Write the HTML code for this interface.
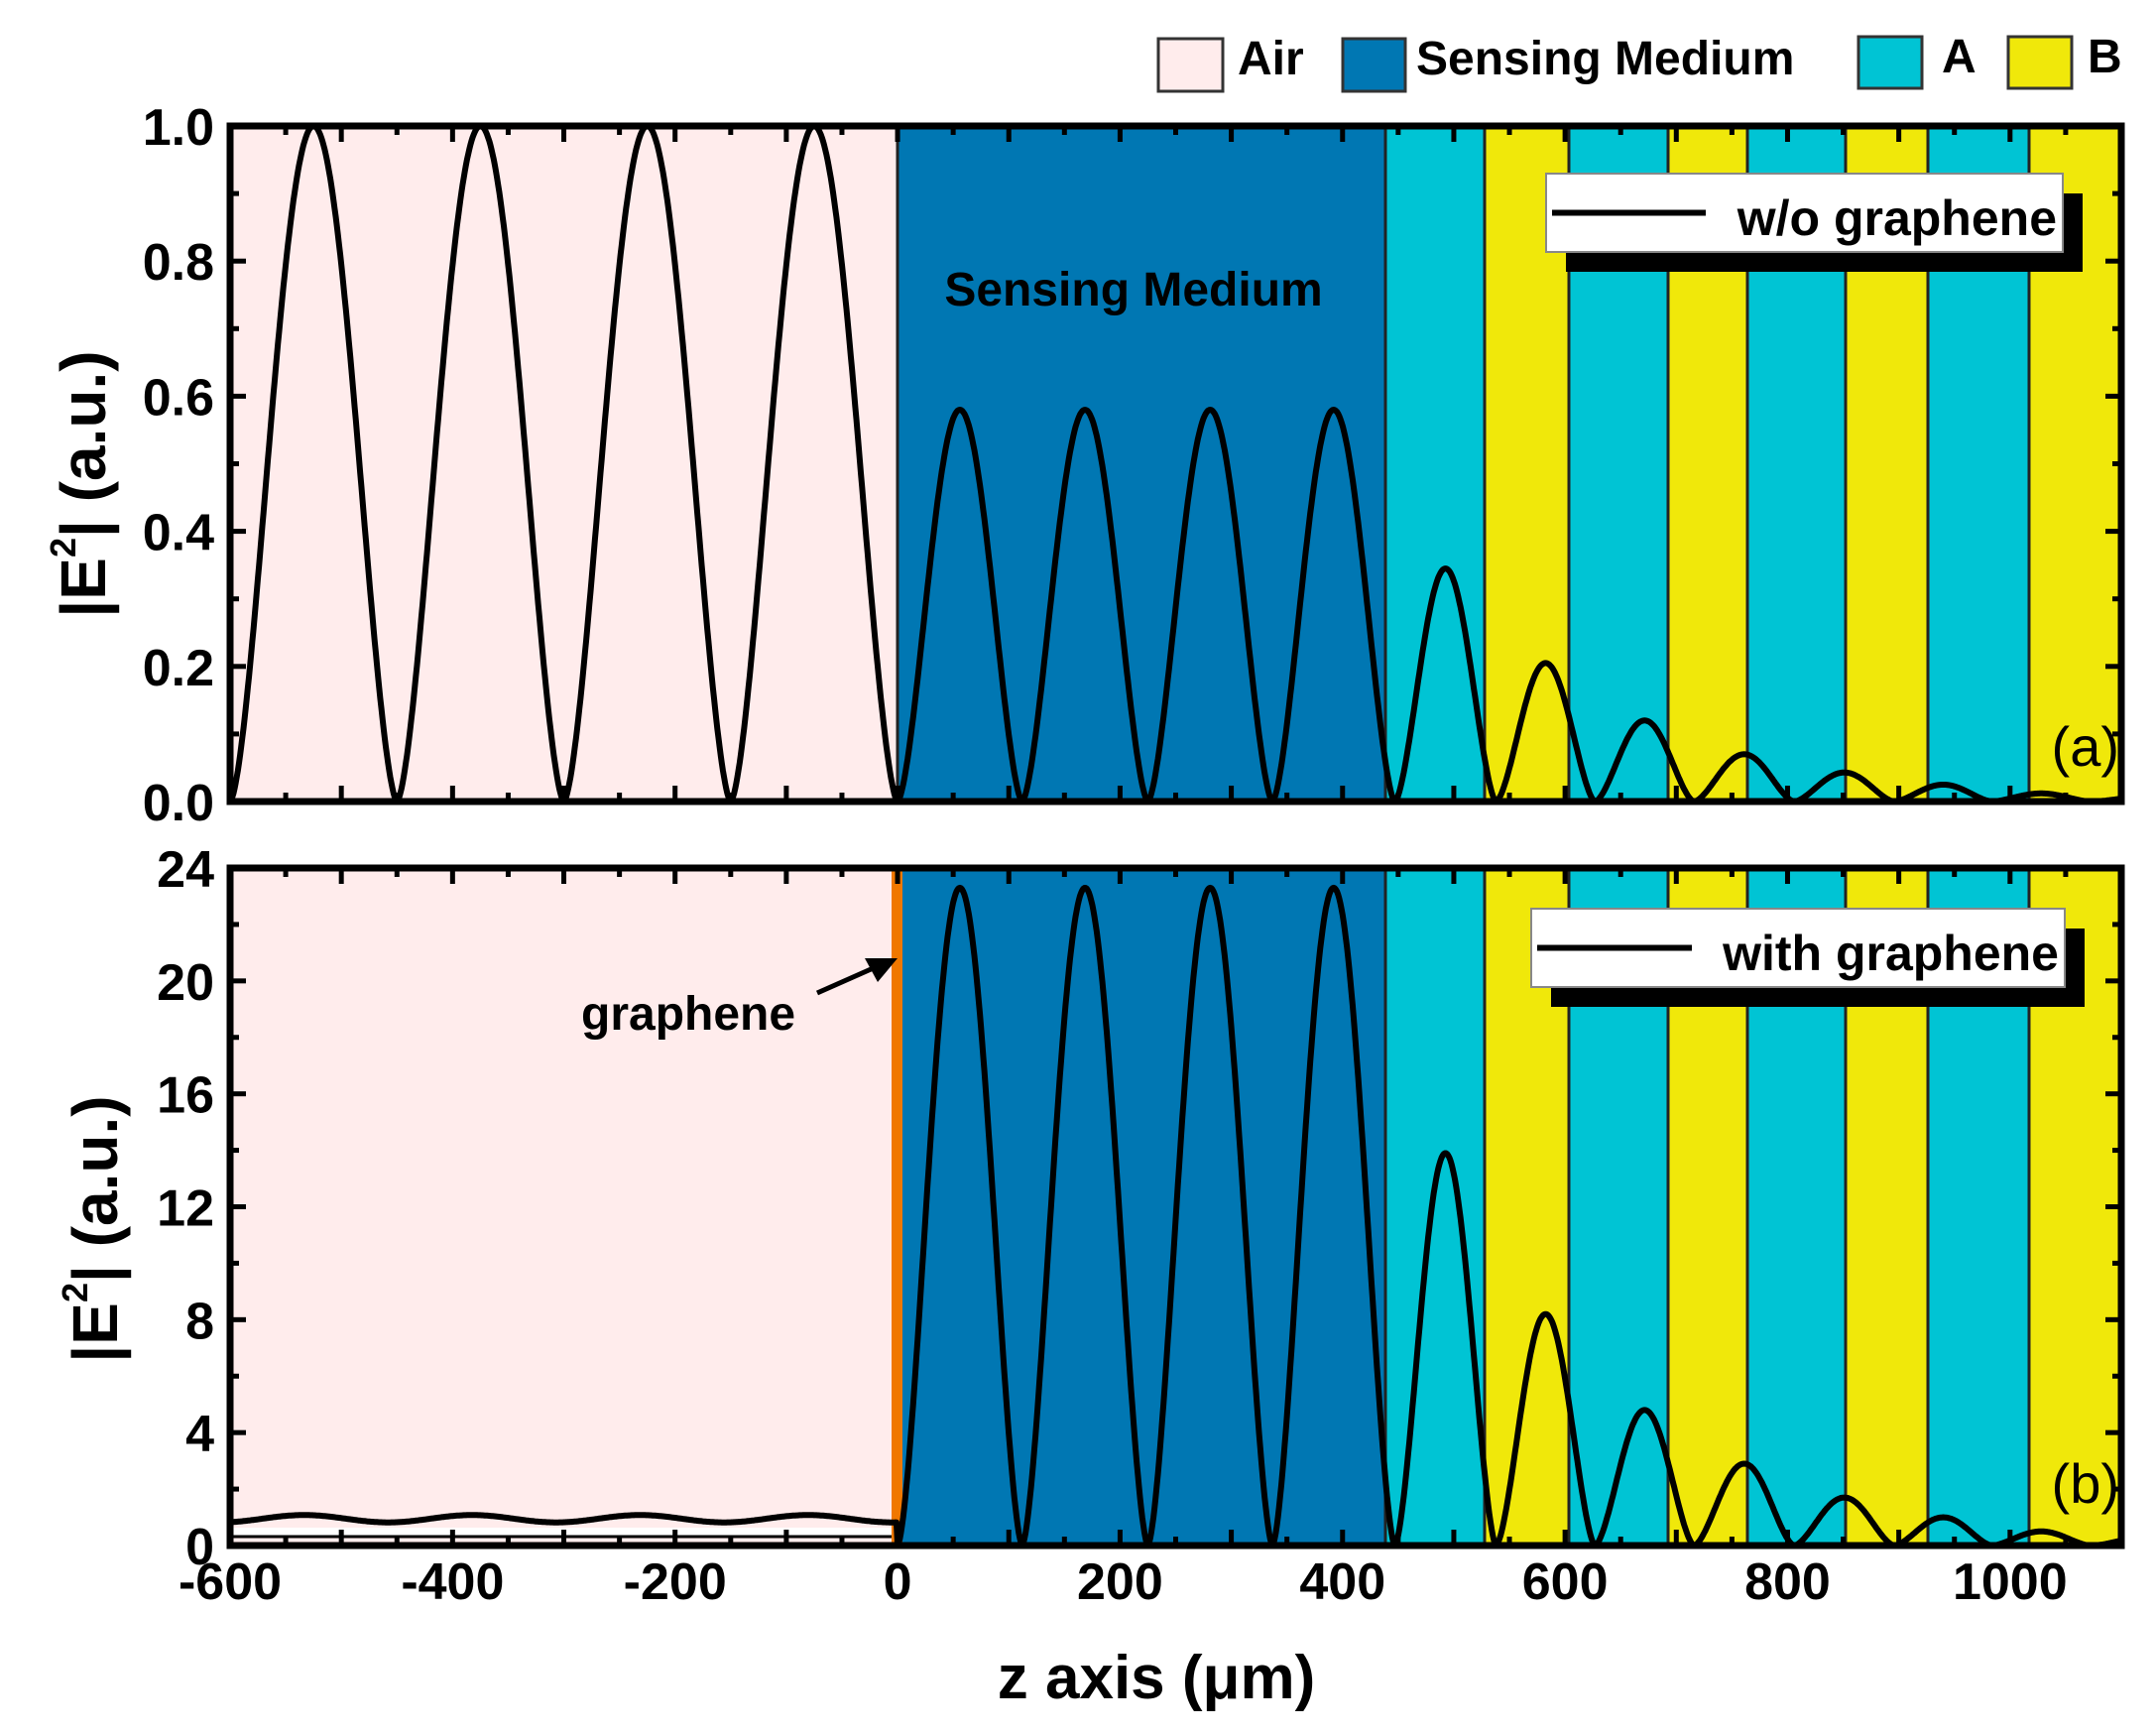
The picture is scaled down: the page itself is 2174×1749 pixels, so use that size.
<!DOCTYPE html>
<html><head><meta charset="utf-8"><style>
html,body{margin:0;padding:0;background:#fff;}
svg{display:block;}
text{font-family:"Liberation Sans",Arial,sans-serif;font-weight:bold;fill:#000;}
</style></head><body>
<svg id="s" width="2174" height="1749" viewBox="0 0 2174 1749" xmlns="http://www.w3.org/2000/svg">
<g id="g"></g>
<!-- legend top -->
<rect x="1168" y="39" width="65" height="53" fill="#ffecec" stroke="#333" stroke-width="3"/>
<text x="1248" y="75" font-size="48">Air</text>
<rect x="1354" y="39" width="63" height="53" fill="#0077b3" stroke="#333" stroke-width="3"/>
<text x="1428" y="75" font-size="48">Sensing Medium</text>
<rect x="1874" y="37" width="64" height="52" fill="#00c4d4" stroke="#333" stroke-width="3"/>
<text x="1958" y="73" font-size="48">A</text>
<rect x="2025" y="37" width="64" height="52" fill="#f0e80a" stroke="#333" stroke-width="3"/>
<text x="2105" y="73" font-size="48">B</text>
<!-- axis titles -->
<text transform="translate(106,488) rotate(-90)" text-anchor="middle" font-size="64">|E<tspan font-size="36" dy="-30">2</tspan><tspan dy="30">| (a.u.)</tspan></text>
<text transform="translate(118,1239) rotate(-90)" text-anchor="middle" font-size="64">|E<tspan font-size="36" dy="-30">2</tspan><tspan dy="30">| (a.u.)</tspan></text>
<text x="1166" y="1712" text-anchor="middle" font-size="62">z axis (μm)</text>
</svg>
<script>
const g=document.getElementById('g');
const NS='http://www.w3.org/2000/svg';
function el(t,a,txt){const e=document.createElementNS(NS,t);for(const k in a)e.setAttribute(k,a[k]);if(txt!==undefined)e.textContent=txt;g.appendChild(e);return e;}
const X0=232,X1=2139;
const sx=z=>X0+(z+600)*(X1-X0)/1700;
const bounds=[[1397,1497,'#00c4d4'],[1497,1582,'#f0e80a'],[1582,1682,'#00c4d4'],[1682,1762,'#f0e80a'],[1762,1861,'#00c4d4'],[1861,1944,'#f0e80a'],[1944,2046,'#00c4d4'],[2046,2139,'#f0e80a']];
const zeros=[0,112,225,337,447,538,627,716,806,896,984,1072];
function curve(z,peaks,air){
  if(z<0) return air(z);
  for(let i=0;i<zeros.length-1;i++){
    if(z>=zeros[i]&&z<=zeros[i+1]){const t=(z-zeros[i])/(zeros[i+1]-zeros[i]);return peaks[i]*Math.pow(Math.sin(Math.PI*t),1.6);}
  }
  return peaks[peaks.length-1]*0.5*Math.pow(Math.sin(Math.PI*(z-1072)/88),2);
}
function panel(top,bot,ymax,yticks,minor,peaks,air,lab,leg,label,isB){
  const sy=v=>bot-(v/ymax)*(bot-top);
  el('rect',{x:X0,y:top,width:905-X0,height:bot-top,fill:'#ffecec'});
  el('rect',{x:905,y:top,width:1397-905,height:bot-top,fill:'#0077b3'});
  bounds.forEach(b=>el('rect',{x:b[0],y:top,width:b[1]-b[0],height:bot-top,fill:b[2]}));
  [905,1397].concat(bounds.map(b=>b[1])).forEach(x=>{if(x<2139)el('line',{x1:x,y1:top,x2:x,y2:bot,stroke:'#222','stroke-width':3});});
  if(isB){
    el('rect',{x:X0,y:bot-18,width:905-X0,height:8,fill:'#fff'});
    el('line',{x1:X0,y1:bot-9,x2:905,y2:bot-9,stroke:'#000','stroke-width':3});
    el('rect',{x:899,y:top,width:11,height:bot-top,fill:'#f07800'});
  }
  let d='';
  for(let z=-600;z<=1100;z+=1){const v=curve(z,peaks,air);d+=(z==-600?'M':'L')+sx(z).toFixed(1)+','+sy(v).toFixed(1);}
  el('path',{d:d,fill:'none',stroke:'#000','stroke-width':6,'stroke-linejoin':'round'});
  for(let z=-600;z<=1100;z+=50){const x=sx(z);const L=(z%100==0)?16:9;
    el('line',{x1:x,y1:bot,x2:x,y2:bot-L,stroke:'#000','stroke-width':5});
    el('line',{x1:x,y1:top,x2:x,y2:top+L,stroke:'#000','stroke-width':5});
    if(isB && z%200==0) el('text',{x:x,y:bot+54,'text-anchor':'middle','font-size':52},String(z));
  }
  for(let v=0;v<=ymax+1e-9;v+=minor){const y=sy(v);const maj=yticks.some(t=>Math.abs(t-v)<1e-6);const L=maj?16:9;
    el('line',{x1:X0,y1:y,x2:X0+L,y2:y,stroke:'#000','stroke-width':5});
    el('line',{x1:X1,y1:y,x2:X1-L,y2:y,stroke:'#000','stroke-width':5});
  }
  yticks.forEach(v=>el('text',{x:216,y:sy(v)+19,'text-anchor':'end','font-size':52},lab(v)));
  el('rect',{x:X0,y:top,width:X1-X0,height:bot-top,fill:'none',stroke:'#000','stroke-width':7});
  el('rect',{x:leg[0]+20,y:leg[1]+20,width:leg[2]-leg[0],height:leg[3]-leg[1],fill:'#000'});
  el('rect',{x:leg[0],y:leg[1],width:leg[2]-leg[0],height:leg[3]-leg[1],fill:'#fff',stroke:'#888','stroke-width':2});
  el('line',{x1:leg[0]+6,y1:(leg[1]+leg[3])/2,x2:leg[4],y2:(leg[1]+leg[3])/2,stroke:'#000','stroke-width':6});
  el('text',{x:leg[2]-6,y:leg[3]-17,'text-anchor':'end','font-size':50},leg[5]);
  el('text',{x:2137,y:label[1],'text-anchor':'end','font-size':56,style:'font-weight:normal'},label[0]);
}
panel(127,808,1.0,[0,0.2,0.4,0.6,0.8,1.0],0.1,
  [0.58,0.58,0.58,0.58,0.345,0.205,0.12,0.07,0.043,0.025,0.012],
  z=>Math.pow(Math.abs(Math.sin(Math.PI*(z+600)/150)),1.6),
  v=>v.toFixed(1),[1559,175,2080,254,1720,'w/o graphene'],['(a)',772],false);
panel(875,1558,24,[0,4,8,12,16,20,24],2,
  [23.3,23.3,23.3,23.3,13.9,8.2,4.8,2.9,1.7,1.0,0.5],
  z=>0.95+0.13*Math.sin(2*Math.PI*(z+600)/151-1.2),
  v=>String(v),[1544,916,2082,995,1706,'with graphene'],['(b)',1515],true);
el('text',{x:586,y:1038,'font-size':48},'graphene');
el('line',{x1:824,y1:1001,x2:885,y2:974,stroke:'#000','stroke-width':5});
el('polygon',{points:'905,966 872,966 885,990',fill:'#000'});
el('text',{x:1143,y:308,'text-anchor':'middle','font-size':48},'Sensing Medium');
</script>
</body></html>
